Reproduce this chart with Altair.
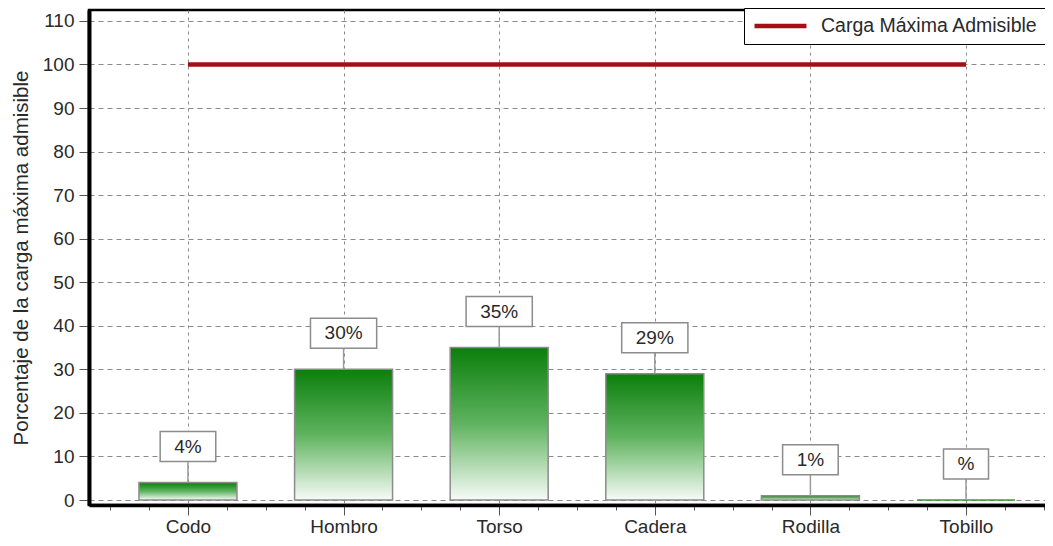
import json
import altair as alt
import pandas as pd

# ---------------- data ----------------
categories = ["Codo", "Hombro", "Torso", "Cadera", "Rodilla", "Tobillo"]
values = [4, 30, 35, 29, 1, 0]
labels = ["4%", "30%", "35%", "29%", "1%", "%"]
limit_value = 100
limit_name = "Carga Máxima Admisible"
y_ticks = list(range(0, 111, 10))
x_ticks = [i / 4 for i in range(-2, 23)]  # quarter-step ticks, -0.5 .. 5.5

# ---------------- layout ----------------
W, H = 964, 495
XMIN, XMAX = -0.636, 5.559
YMIN, YMAX = -1.148, 112.51
PX = W / (XMAX - XMIN)
FONT = "Liberation Sans"
TXT = "#2a2a2a"

bars_df = pd.DataFrame({
    "idx": list(range(len(categories))),
    "cat": categories,
    "value": values,
    "label": labels,
})
limit_df = pd.DataFrame({
    "name": [limit_name],
    "idx": [0],
    "end": [len(categories) - 1],
    "value": [limit_value],
})

label_expr = (
    f"datum.value % 1 === 0 && datum.value >= 0 && datum.value < {len(categories)} "
    f"? {json.dumps(categories)}[datum.value] : ''"
)

xscale = alt.Scale(domain=[XMIN, XMAX], nice=False, padding=0)
yscale = alt.Scale(domain=[YMIN, YMAX], nice=False, padding=0)

x_axis = alt.Axis(
    values=x_ticks,
    labelExpr=label_expr,
    title=None,
    grid=True,
    gridColor="#8a8a8a",
    gridDash=[3, 4],
    gridWidth=1,
    gridOpacity={"condition": {"test": "datum.value % 1 === 0 && datum.value >= 0", "value": 1}, "value": 0},
    tickSize={"condition": {"test": "datum.value % 1 === 0", "value": 10}, "value": 5},
    tickColor="#555",
    tickWidth=1,
    domainColor="black",
    domainWidth=3.5,
    labelFont=FONT,
    labelFontSize=19,
    labelColor=TXT,
    labelPadding=2,
    labelFlush=False,
    labelOverlap=False,
)
y_axis = alt.Axis(
    values=y_ticks,
    title="Porcentaje de la carga máxima admisible",
    titleFont=FONT,
    titleFontSize=20.5,
    titleFontWeight="normal",
    titleColor=TXT,
    titlePadding=11,
    grid=True,
    gridColor="#8a8a8a",
    gridDash=[5, 4],
    gridWidth=1,
    tickSize=10,
    tickColor="#555",
    domainColor="black",
    domainWidth=4,
    labelFont=FONT,
    labelFontSize=19,
    labelColor=TXT,
    labelPadding=5,
)

gradient = alt.Gradient(
    gradient="linear",
    stops=[
        alt.GradientStop(color="#0b7f0b", offset=0),
        alt.GradientStop(color="#5fb35f", offset=0.5),
        alt.GradientStop(color="#f7fbf7", offset=1),
    ],
    x1=0, x2=0, y1=0, y2=1,
)

X = alt.X("idx:Q", scale=xscale, axis=x_axis)
Y = alt.Y("value:Q", scale=yscale, axis=y_axis)

base = alt.Chart(bars_df)

bars = base.mark_bar(width=98, fill=gradient, strokeWidth=1.5).encode(
    x=X,
    y=Y,
    y2=alt.datum(0),
    stroke=alt.condition("datum.value == 0", alt.value("#3d9a3d"), alt.value("#8c8c8c")),
)

leaders = base.mark_rule(color="#9a9a9a", strokeWidth=1.5, y2Offset=-21).encode(
    x=X,
    y=Y,
    y2="value:Q",
)

boxes = base.transform_calculate(
    hw=f"(45 + 10.6 * (length(datum.label) - 1)) / 2 / {PX}"
).transform_calculate(
    xr="datum.idx + datum.hw"
).transform_calculate(
    idx="datum.idx - datum.hw"
).mark_rect(fill="white", stroke="#8c8c8c", strokeWidth=1.5, yOffset=-21, y2Offset=-51).encode(
    x=X,
    x2="xr:Q",
    y=Y,
    y2="value:Q",
)

texts = base.mark_text(dy=-36, font=FONT, fontSize=19, color=TXT, baseline="middle", align="center").encode(
    x=X,
    y=Y,
    text="label:N",
)

limit = alt.Chart(limit_df).mark_rule(strokeWidth=4.5).encode(
    x=X,
    x2="end:Q",
    y=Y,
    color=alt.Color(
        "name:N",
        scale=alt.Scale(range=["#a50f14"]),
        legend=alt.Legend(
            title=None,
            orient="none",
            legendX=655,
            legendY=-2,
            symbolType="stroke",
            symbolSize=2700,
            symbolStrokeWidth=4.5,
            symbolStrokeColor="#a50f14",
            clipHeight=20,
            labelFont=FONT,
            labelFontSize=19.5,
            labelColor=TXT,
            labelOffset=12,
            labelLimit=400,
            padding=8,
            strokeColor="black",
            fillColor="white",
        ),
    ),
)

chart = alt.layer(bars, leaders, boxes, texts, limit).properties(
    width=W,
    height=H,
    autosize=alt.AutoSizeParams(type="none"),
    padding={"left": 81, "top": 2, "right": -8, "bottom": 33},
    background="white",
).configure_view(stroke="black", strokeWidth=2.5)

chart.save("out.html", embed_options={"renderer": "svg", "actions": False})
